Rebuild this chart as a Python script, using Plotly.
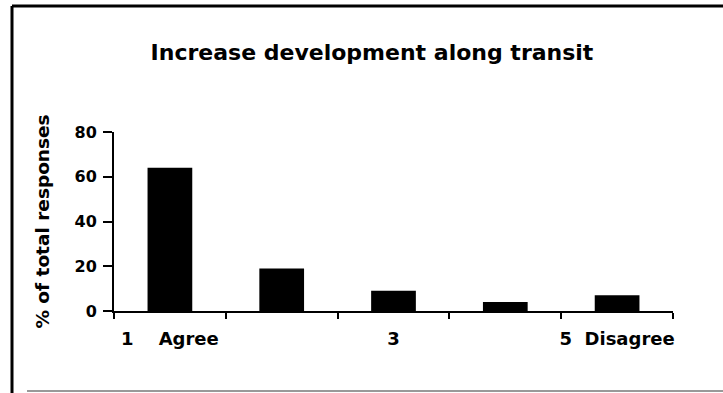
import plotly.graph_objects as go

categories = ["c1", "c2", "c3", "c4", "c5"]
values = [64, 19, 9, 4, 7]
tick_labels = ["1\u00a0\u00a0\u00a0\u00a0Agree", "", "3", "", "5\u00a0\u00a0Disagree"]
y_ticks = [0, 20, 40, 60, 80]

W, H = 723, 393
L, R, T, B = 114, 50, 132, 82

fig = go.Figure(go.Bar(x=categories, y=values, marker=dict(color="black", line=dict(width=0)),
                       width=0.4))

font = "DejaVu Sans, Liberation Sans, Arial, sans-serif"
fig.update_layout(
    width=W, height=H,
    margin=dict(l=L, r=R, t=T, b=B, autoexpand=False),
    paper_bgcolor="white", plot_bgcolor="white",
    showlegend=False,
    font=dict(family=font, color="black", size=16),
    title=dict(text="<b>Increase development along transit</b>",
               x=372 / W, xanchor="center", y=1 - 52 / H, yanchor="middle",
               font=dict(size=22, family=font, color="black")),
)
fig.update_xaxes(
    type="category", tickmode="array", tickvals=categories, ticktext=["<b>%s</b>" % t for t in tick_labels],
    tickson="boundaries", ticks="outside", ticklen=6, tickwidth=2, tickcolor="black",
    showline=True, linecolor="black", linewidth=2, showgrid=False, zeroline=False,
    tickfont=dict(size=18, family=font, color="black"), ticklabelstandoff=10,
    tickangle=0, automargin=False,
)
fig.update_yaxes(
    range=[0, 80], tickmode="array", tickvals=y_ticks, ticktext=["<b>%d</b>" % v for v in y_ticks],
    ticks="outside", ticklen=9, tickwidth=2, tickcolor="black",
    showline=True, linecolor="black", linewidth=2, showgrid=False, zeroline=False,
    tickfont=dict(size=16, family=font, color="black"), automargin=False, ticklabelstandoff=3,
    title=dict(text="<b>% of total responses</b>", font=dict(size=18.5, family=font, color="black"), standoff=20),
)

# frame lines around the chart
fig.add_shape(type="line", xref="paper", yref="paper",
              x0=(12 - L) / (W - L - R), x1=(W - L) / (W - L - R),
              y0=(H - 6 - B) / (H - T - B), y1=(H - 6 - B) / (H - T - B),
              line=dict(color="black", width=3))
fig.add_shape(type="line", xref="paper", yref="paper",
              x0=(12 - L) / (W - L - R), x1=(12 - L) / (W - L - R),
              y0=(H - 6 - B) / (H - T - B), y1=(-B) / (H - T - B),
              line=dict(color="black", width=3))
fig.add_shape(type="line", xref="paper", yref="paper",
              x0=(27 - L) / (W - L - R), x1=(W - L) / (W - L - R),
              y0=(2 - B) / (H - T - B), y1=(2 - B) / (H - T - B),
              line=dict(color="#999999", width=2))

fig.write_html("out.html")
